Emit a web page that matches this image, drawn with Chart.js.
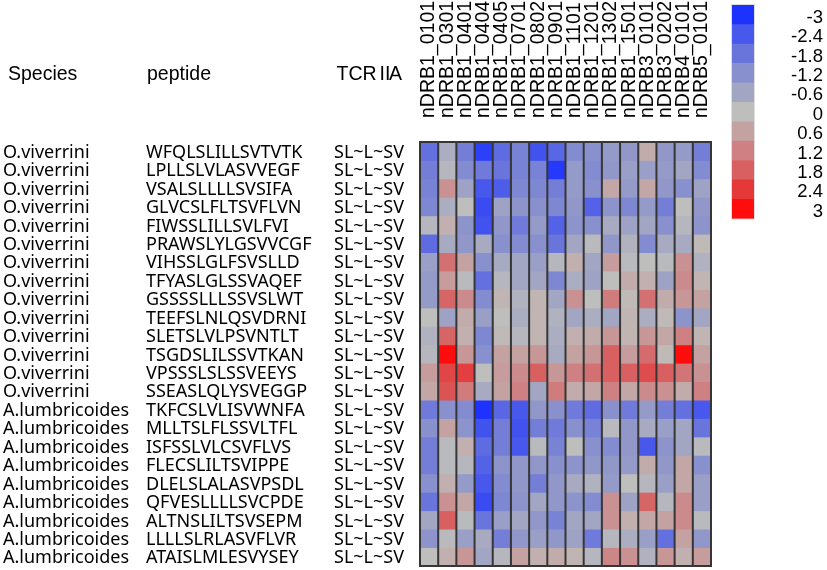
<!DOCTYPE html>
<html><head><meta charset="utf-8">
<script src="https://cdn.jsdelivr.net/npm/chart.js@4.4.0/dist/chart.umd.min.js"></script>
<style>html,body{margin:0;padding:0;background:#fff;}#wrap{width:827px;height:570px;position:relative;}</style>
</head><body><div id="wrap"><canvas id="c"></canvas></div>
<script>
const alleles = ['nDRB1_0101','nDRB1_0301','nDRB1_0401','nDRB1_0404','nDRB1_0405','nDRB1_0701','nDRB1_0802','nDRB1_0901','nDRB1_1101','nDRB1_1201','nDRB1_1302','nDRB1_1501','nDRB3_0101','nDRB3_0202','nDRB4_0101','nDRB5_0101'];
const ovPeptides = ['WFQLSLILLSVTVTK','LPLLSLVLASVVEGF','VSALSLLLLSVSIFA','GLVCSLFLTSVFLVN','FIWSSLILLSVLFVI','PRAWSLYLGSVVCGF','VIHSSLGLFSVSLLD','TFYASLGLSSVAQEF','GSSSSLLLSSVSLWT','TEEFSLNLQSVDRNI','SLETSLVLPSVNTLT','TSGDSLILSSVTKAN','VPSSSLSLSSVEEYS','SSEASLQLYSVEGGP'];
const alPeptides = ['TKFCSLVLISVWNFA','MLLTSLFLSSVLTFL','ISFSSLVLCSVFLVS','FLECSLILTSVIPPE','DLELSLALASVPSDL','QFVESLLLLSVCPDE','ALTNSLILTSVSEPM','LLLLSLRLASVFLVR','ATAISLMLESVYSEY'];
const tcrMotif = 'SL~L~SV';
const ovScores = [
 [-1.9,-0.4,-1.6,-2.8,-2.0,-1.5,-2.5,-2.1,-1.3,-1.2,-0.9,-1.0,0.4,-1.0,-0.9,-1.6],
 [-1.6,-0.2,-1.3,-1.7,-1.8,-1.5,-1.5,-2.9,-0.9,-1.3,-1.0,-0.8,-0.8,-0.9,-0.6,-1.3],
 [-1.5,0.9,-0.7,-2.4,-2.3,-1.4,-1.4,-1.6,-0.9,-1.2,0.5,-0.9,0.5,-1.0,-1.2,-0.7],
 [-1.4,-0.4,0.0,-2.6,-0.7,-1.1,-1.2,-1.4,-1.0,-2.2,-1.1,-1.4,-0.9,-1.6,0.0,-1.0],
 [-0.2,0.3,-1.1,-2.5,-1.0,-1.7,-0.9,-2.2,-1.1,-1.2,-0.5,-0.7,-0.6,-1.2,-0.2,-1.1],
 [-2.0,-0.5,-1.0,-0.5,-1.2,-1.3,-1.2,-1.8,-0.6,-0.1,-1.0,-0.3,-1.3,-0.5,-0.5,0.1],
 [-0.8,1.5,0.6,-1.2,-0.5,-0.6,-0.8,-0.2,0.3,-0.6,0.7,-0.1,0.0,-0.1,0.9,-0.3],
 [-0.9,0.7,-0.1,-1.9,-0.2,-0.6,-0.6,-1.4,-0.4,-0.7,0.0,0.4,0.3,-0.7,1.0,0.2],
 [-0.9,1.7,1.0,-1.3,0.2,-0.3,0.2,-0.6,0.9,0.0,1.3,0.1,1.5,0.4,0.8,0.6],
 [0.0,-0.7,0.4,-0.8,0.0,-0.4,0.2,-0.3,-0.6,-0.4,-0.6,0.2,-0.4,0.1,-1.1,-0.6],
 [-0.3,1.7,0.3,-1.4,0.1,-0.2,0.2,-0.4,0.3,0.4,0.8,0.2,0.8,0.5,1.2,0.2],
 [-0.2,3.0,0.8,-1.2,0.6,0.6,0.8,-0.5,0.6,0.8,1.8,0.7,1.6,0.1,3.0,0.6],
 [0.7,2.2,2.3,0.0,0.7,1.0,1.8,0.8,1.2,1.5,1.8,1.8,2.1,1.8,1.4,0.9],
 [0.5,2.0,1.3,-0.5,0.6,1.2,-0.6,1.3,0.4,0.5,1.2,0.5,1.0,0.9,0.4,1.2]
];
const alScores = [
 [-1.7,-1.2,-1.3,-3.0,-2.1,-2.4,-1.0,-1.2,-1.7,-2.0,-1.2,-1.7,-0.9,-1.6,-1.9,-2.4],
 [-1.2,0.6,-1.1,-2.5,-1.6,-2.5,-1.6,-1.7,-1.2,-1.5,-0.1,-1.0,-0.5,-0.8,-0.6,-1.8],
 [-1.6,-0.1,0.3,-2.0,-1.6,-2.4,-0.1,-1.5,0.0,-1.2,-1.3,-1.0,-2.4,-1.1,-0.6,-0.1],
 [-1.6,-0.1,-0.2,-2.2,-1.1,-1.0,-1.0,-1.2,-1.1,-1.0,-1.0,-0.9,0.4,-1.0,0.5,-1.2],
 [-1.2,0.3,-0.9,-2.4,-1.3,-1.0,-1.6,-1.0,-0.5,-0.3,-0.9,0.0,-0.2,-0.8,0.5,-0.8],
 [-1.8,0.9,0.5,-2.6,-1.4,-1.1,-0.6,-1.0,-1.1,-1.3,0.9,-0.7,1.7,-0.2,1.0,-0.8],
 [-0.6,1.8,-0.1,-1.8,-0.8,-0.6,-1.0,-1.5,-0.6,-0.6,0.9,0.3,0.5,0.6,1.0,-0.1],
 [-1.1,-0.1,-0.8,-0.5,-1.6,-1.0,-0.8,-1.0,-0.7,-1.7,-0.2,-0.4,-0.8,-1.9,0.6,-1.0],
 [0.0,0.3,0.8,-0.6,-0.2,0.6,0.3,0.4,0.2,-0.2,1.1,0.9,-0.3,0.8,0.3,0.7]
];
const legendTicks = ['-3','-2.4','-1.8','-1.2','-0.6','0','0.6','1.2','1.8','2.4','3'];

const rows = [];
ovPeptides.forEach((p,i)=>rows.push({species:'O.viverrini', peptide:p, scores:ovScores[i]}));
alPeptides.forEach((p,i)=>rows.push({species:'A.lumbricoides', peptide:p, scores:alScores[i]}));
const nRows = rows.length, nCols = alleles.length;

const anchors = [[30,50,255],[72,88,236],[106,117,220],[136,144,205],[162,166,194],[190,190,188],[196,162,162],[206,128,130],[216,96,97],[229,56,57],[255,12,12]];
function colorFor(v){
  let t = (Math.max(-3,Math.min(3,v))+3)/0.6;
  let i = Math.min(9, Math.floor(t)), f = t - i;
  const a = anchors[i], b = anchors[i+1];
  const c = a.map((x,k)=>Math.round(x+(b[k]-x)*f));
  return `rgb(${c[0]},${c[1]},${c[2]})`;
}

const datasets = rows.map((row,r)=>({
  label: row.peptide,
  data: alleles.map(()=>[r, r+1]),
  backgroundColor: row.scores.map(colorFor),
  borderWidth: 0,
  borderSkipped: false,
  inflateAmount: 0.4,
  grouped: false,
  barPercentage: 1,
  categoryPercentage: 1
}));

const gridPlugin = {
  id: 'colgrid',
  afterDatasetsDraw(chart){
    const ctx = chart.ctx, x = chart.scales.x, a = chart.chartArea;
    const half = (x.getPixelForValue(1) - x.getPixelForValue(0)) / 2;
    ctx.save();
    ctx.strokeStyle = '#363636';
    ctx.lineWidth = 2;
    for (let c = 0; c <= nCols; c++) {
      const px = c < nCols ? x.getPixelForValue(c) - half : x.getPixelForValue(nCols-1) + half;
      ctx.beginPath(); ctx.moveTo(px, a.top); ctx.lineTo(px, a.bottom); ctx.stroke();
    }
    ctx.beginPath(); ctx.moveTo(a.left-1, a.top); ctx.lineTo(a.right+1, a.top); ctx.stroke();
    ctx.beginPath(); ctx.moveTo(a.left-1, a.bottom); ctx.lineTo(a.right+1, a.bottom); ctx.stroke();
    ctx.restore();
  }
};

const textPlugin = {
  id: 'texts',
  afterDraw(chart){
    const ctx = chart.ctx, y = chart.scales.y;
    ctx.save();
    ctx.fillStyle = '#000';
    ctx.textAlign = 'left';
    ctx.textBaseline = 'alphabetic';
    ctx.font = '19.5px "Liberation Sans", Arial, sans-serif';
    ctx.fillText('Species', 8, 80);
    ctx.fillText('peptide', 147, 80);
    ctx.fillText('TCR', 336.5, 80);
    ctx.fillText('II', 379.5, 80);
    ctx.fillText('A', 389, 80);
    ctx.font = '18px "Noto Sans", sans-serif';
    rows.forEach((row,r)=>{
      const cy = y.getPixelForValue(r+0.5) + 6.6;
      ctx.fillText(row.species, 3, cy);
      ctx.fillText(row.peptide, 146, cy);
      ctx.fillText(tcrMotif, 334, cy);
    });
    const lx = 732, lw = 22, ly = 5, lh = 19.4;
    legendTicks.forEach((t,i)=>{
      ctx.fillStyle = colorFor(parseFloat(t));
      ctx.fillRect(lx, ly + i*lh, lw, lh + 0.5);
    });
    ctx.strokeStyle = 'rgba(200,200,200,0.6)';
    ctx.lineWidth = 1;
    ctx.strokeRect(lx-0.5, ly-0.5, lw+1, lh*legendTicks.length+1);
    ctx.fillStyle = '#000';
    ctx.textAlign = 'right';
    ctx.font = '18.5px "Liberation Sans", Arial, sans-serif';
    legendTicks.forEach((t,i)=>{
      ctx.fillText(t, 823, ly + (i+0.5)*lh + 8);
    });
    ctx.restore();
  }
};

const tickFontSize = 19.5;
new Chart(document.getElementById('c'), {
  type: 'bar',
  data: { labels: alleles, datasets },
  options: {
    responsive: true,
    maintainAspectRatio: false,
    animation: false,
    layout: { padding: { left: 420, right: 116, top: 0, bottom: 4 } },
    plugins: { legend: { display: false }, tooltip: { enabled: false } },
    scales: {
      x: {
        type: 'category', position: 'top', offset: true,
        grid: { display: false, drawTicks: false }, border: { display: false },
        ticks: { minRotation: 90, maxRotation: 90, autoSkip: false, padding: 24, color: '#000',
                 labelOffset: tickFontSize * 1.2,
                 font: { family: '"Liberation Sans", Arial, sans-serif', size: tickFontSize } },
        afterFit(s){ s.height = 142; }
      },
      y: { type: 'linear', min: 0, max: nRows, reverse: true, display: false }
    }
  },
  plugins: [gridPlugin, textPlugin]
});
</script></body></html>
